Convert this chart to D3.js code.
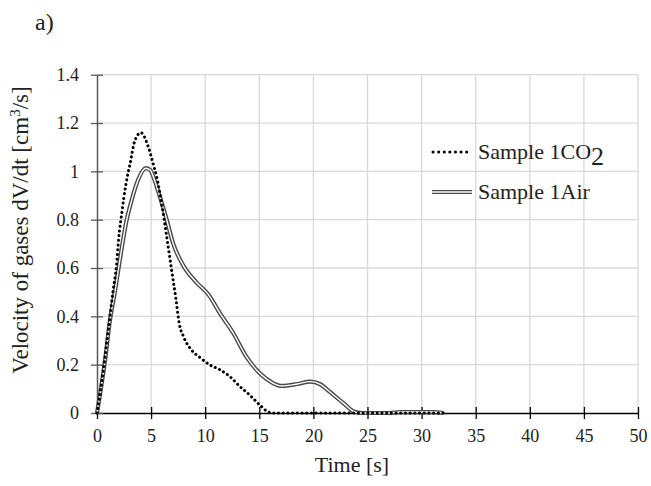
<!DOCTYPE html>
<html>
<head>
<meta charset="utf-8">
<script src="https://cdn.jsdelivr.net/npm/d3@7"></script>
<style>
  body { margin: 0; background: #fff; }
  svg { display: block; }
  text { font-family: "Liberation Serif", "Times New Roman", serif; fill: #222; }
</style>
</head>
<body>
<div class="container"></div>
<script>
// time [s] and velocity [cm3/s]
const co2Time = [0, 0.6, 0.9, 1.2, 1.5, 1.8, 2.0, 2.3, 2.65, 2.9, 3.05, 3.45, 4.05, 4.75, 5.2, 5.5, 6.0, 6.44, 6.9, 7.3, 7.6, 8.0, 8.75, 9.5, 10.4, 11.4, 12.3, 13.2, 14.1, 15.05, 15.8, 16.3, 20, 25, 32];
const co2Vel  = [0, 0.18, 0.29, 0.40, 0.51, 0.61, 0.72, 0.83, 0.94, 1.00, 1.03, 1.12, 1.16, 1.10, 1.03, 0.98, 0.86, 0.73, 0.59, 0.47, 0.37, 0.316, 0.26, 0.23, 0.20, 0.178, 0.15, 0.11, 0.075, 0.033, 0.005, 0, 0, 0, 0];

const airTime = [0, 0.75, 1.2, 1.65, 2.1, 2.75, 3.2, 3.8, 4.5, 4.9, 5.35, 5.8, 6.44, 7.05, 7.98, 9.2, 10.3, 11.4, 12.6, 13.8, 15.05, 16.3, 17.1, 18.5, 19.7, 20.6, 21.5, 22.8, 23.8, 24.5, 27, 28, 31, 32];
const airVel  = [0, 0.22, 0.385, 0.50, 0.63, 0.80, 0.88, 0.965, 1.013, 1.006, 0.96, 0.896, 0.80, 0.70, 0.61, 0.54, 0.49, 0.41, 0.33, 0.233, 0.164, 0.123, 0.112, 0.12, 0.13, 0.12, 0.088, 0.04, 0.005, 0, 0, 0.004, 0.004, 0];

const xTicks = [0, 5, 10, 15, 20, 25, 30, 35, 40, 45, 50];
const yTicks = [0, 0.2, 0.4, 0.6, 0.8, 1.0, 1.2, 1.4];

const w = 651;
const h = 486;
const serif = "'Liberation Serif', 'Times New Roman', serif";

const svg = d3.select(".container")
    .append("svg")
    .attr("width", w)
    .attr("height", h);

const xScale = d3.scaleLinear().domain([0, 50]).range([97, 638]);
const yScale = d3.scaleLinear().domain([0, 1.4]).range([413, 74.7]);

// grid
svg.append("g").selectAll("line")
    .data(xTicks.slice(1))
    .enter().append("line")
    .attr("x1", d => xScale(d)).attr("x2", d => xScale(d))
    .attr("y1", yScale(1.4)).attr("y2", yScale(0))
    .attr("stroke", "#d9d9d9").attr("stroke-width", 1.3);

svg.append("g").selectAll("line")
    .data(yTicks.slice(1))
    .enter().append("line")
    .attr("x1", xScale(0)).attr("x2", xScale(50))
    .attr("y1", d => yScale(d)).attr("y2", d => yScale(d))
    .attr("stroke", "#d9d9d9").attr("stroke-width", 1.3);

// axes
const xAxis = d3.axisBottom(xScale).tickValues(xTicks).tickSizeInner(6).tickSizeOuter(0).tickFormat(d3.format("d"));
const yAxis = d3.axisLeft(yScale).tickValues(yTicks).tickSizeInner(6).tickSizeOuter(0).tickFormat(d => d === 1 ? "1" : d);

const gx = svg.append("g")
    .attr("transform", "translate(0," + yScale(0) + ")")
    .call(xAxis)
    .attr("font-family", serif)
    .attr("font-size", 18);
gx.select(".domain").attr("stroke", "#000").attr("stroke-width", 1.3);
gx.selectAll(".tick line").attr("y1", -6).attr("stroke", "#000").attr("stroke-width", 1.3);
gx.selectAll(".tick text")
    .attr("y", 0).attr("dy", 0)
    .attr("transform", "translate(0,29)")
    .style("font-family", serif)
    .attr("fill", "#222");

const gy = svg.append("g")
    .attr("transform", "translate(" + xScale(0) + ",0)")
    .call(yAxis)
    .attr("font-family", serif)
    .attr("font-size", 18);
gy.select(".domain").attr("stroke", "#595959").attr("stroke-width", 1.5);
gy.selectAll(".tick line").attr("x1", 6).attr("stroke", "#595959").attr("stroke-width", 1.3);
gy.selectAll(".tick text")
    .attr("x", -18).attr("dy", "0.32em")
    .style("font-family", serif)
    .attr("fill", "#222");

// curves
const line = d3.line()
    .x(d => xScale(d[0]))
    .y(d => yScale(d[1]))
    .curve(d3.curveMonotoneX);

const co2 = co2Time.map((t, i) => [t, co2Vel[i]]);
const air = airTime.map((t, i) => [t, airVel[i]]);

svg.append("path").datum(air)
    .attr("d", line).attr("fill", "none")
    .attr("stroke", "#4a4a4a").attr("stroke-width", 4.2);
svg.append("path").datum(air)
    .attr("d", line).attr("fill", "none")
    .attr("stroke", "#fff").attr("stroke-width", 1.4);

svg.append("path").datum(co2)
    .attr("d", line).attr("fill", "none")
    .attr("stroke", "#000").attr("stroke-width", 3)
    .attr("stroke-linecap", "round")
    .attr("stroke-dasharray", "0.1 4.6");

// legend
const legend = svg.append("g");
legend.append("line")
    .attr("x1", 433).attr("x2", 468).attr("y1", 152).attr("y2", 152)
    .attr("stroke", "#000").attr("stroke-width", 3)
    .attr("stroke-linecap", "round").attr("stroke-dasharray", "0.1 5.5");
const t1 = legend.append("text")
    .attr("x", 478).attr("y", 159)
    .style("font-size", "22px");
t1.append("tspan").text("Sample 1CO");
t1.append("tspan").attr("dy", 6).style("font-size", "26px").text("2");

legend.append("line")
    .attr("x1", 432).attr("x2", 472).attr("y1", 192).attr("y2", 192)
    .attr("stroke", "#4a4a4a").attr("stroke-width", 4.2);
legend.append("line")
    .attr("x1", 432).attr("x2", 472).attr("y1", 192).attr("y2", 192)
    .attr("stroke", "#fff").attr("stroke-width", 1.4);
legend.append("text")
    .attr("x", 478).attr("y", 199)
    .style("font-size", "22px")
    .text("Sample 1Air");

// titles
svg.append("text")
    .attr("x", 352).attr("y", 472)
    .attr("text-anchor", "middle")
    .style("font-size", "22px")
    .text("Time [s]");

const yLabel = svg.append("text")
    .attr("transform", "translate(28,230) rotate(-90)")
    .attr("text-anchor", "middle")
    .style("font-size", "23px");
yLabel.append("tspan").text("Velocity of gases dV/dt [cm");
yLabel.append("tspan").attr("dy", -8).style("font-size", "15px").text("3");
yLabel.append("tspan").attr("dy", 8).text("/s]");

svg.append("text")
    .attr("x", 35).attr("y", 30)
    .style("font-size", "24px")
    .text("a)");
</script>
</body>
</html>
